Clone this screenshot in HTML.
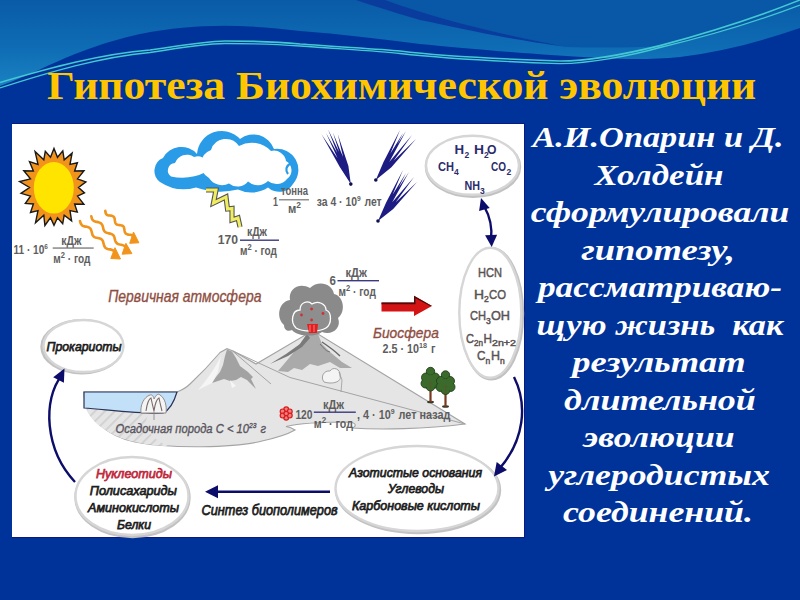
<!DOCTYPE html>
<html><head><meta charset="utf-8">
<style>
html,body{margin:0;padding:0;width:800px;height:600px;overflow:hidden;background:#003399;}
#bg{position:absolute;left:0;top:0;width:800px;height:600px;}
#title{position:absolute;left:0;top:61px;width:800px;white-space:nowrap;
 font-family:"Liberation Serif",serif;font-weight:bold;font-size:41px;color:#FFC600;}
#title span{position:absolute;left:47px;top:0;transform-origin:0 0;transform:scaleX(1.066);}
#panel{position:absolute;left:12px;top:123px;width:512px;height:413px;background:#fff;border:1px solid #0a1a80;border-left:none;}
#diag{position:absolute;left:0;top:0;width:800px;height:600px;}
#txt{position:absolute;left:523px;top:118px;width:276px;text-align:center;white-space:pre;
 font-family:"Liberation Serif",serif;font-weight:bold;font-style:italic;font-size:30px;line-height:37.5px;color:#fff;}
</style></head>
<body>
<svg id="bg" width="800" height="600" viewBox="0 0 800 600">
 <defs>
  <linearGradient id="glight" x1="0" y1="0" x2="0" y2="1" gradientUnits="objectBoundingBox">
   <stop offset="0" stop-color="#0a5ba7"/>
   <stop offset="0.55" stop-color="#0e6cb4"/>
   <stop offset="1" stop-color="#1a82c2"/>
  </linearGradient>
 </defs>
 <rect x="0" y="0" width="800" height="600" fill="#003399"/>
 <path d="M0,0 L800,0 L800,28 C760,42 720,52 680,57 C650,60 620,59 600,58 C540,55 460,48 420,44 C380,39 340,34 300,31 C260,26 220,24 180,28 C140,32 112,40 75,54 C50,64 30,75 0,86 Z" fill="url(#glight)"/>
 <path d="M385,0 L800,0 L800,0 C760,20 720,34 670,45 C640,48 600,48 567,47 C500,34 440,20 385,0 Z" fill="#0858a7"/>
 <path d="M356,0 L385,0 C440,20 500,34 567,47 C500,38 460,28 420,20 C400,14 380,8 356,0 Z" fill="#0a3c9e"/>
 <path d="M0,82.5 C50,68 100,54 150,50 C190,44 210,41 225,41 C260,41 280,42 300,44 C340,47 380,49 400,51 C440,56 500,59 560,61 C590,61 630,53 660,45.6 C700,35 750,20 800,0" fill="none" stroke="#44c8d2" stroke-width="1.6"/>
 <path d="M0,88 C50,72 100,57 150,52.5 C190,46 210,43.5 225,43.5 C260,43.5 280,44.5 300,46 C340,49 380,51 400,53.5 C440,58 500,61.5 560,63.7 C590,63 630,56 660,47.5 C700,38 750,24 800,5" fill="none" stroke="#44c8d2" stroke-width="1.3"/>
</svg>
<div id="title"><span>Гипотеза Биохимической эволюции</span></div>
<div id="panel"></div>
<svg id="diag" width="800" height="600" viewBox="0 0 800 600">
<polygon points="54.0,148.4 57.5,157.3 62.8,150.9 64.2,159.8 72.1,153.1 70.0,164.4 77.4,162.8 74.6,171.0 84.0,170.8 77.5,178.9 85.9,181.9 78.5,187.5 84.5,192.9 77.5,196.1 83.9,204.2 74.6,204.0 77.3,212.1 70.0,210.6 71.6,220.9 64.2,215.2 62.7,223.7 57.5,217.7 54.0,225.3 50.5,217.7 44.9,225.5 43.8,215.2 35.5,222.7 38.0,210.6 30.5,212.4 33.4,204.0 25.3,203.5 30.5,196.1 21.0,193.3 29.5,187.5 19.6,181.5 30.5,178.9 23.8,170.7 33.4,171.0 29.5,161.6 38.0,164.4 35.1,151.6 43.8,159.8 45.3,151.4 50.5,157.3" fill="#f2941c" stroke="#1a1a1a" stroke-width="1.4" stroke-linejoin="miter"/>
<ellipse cx="53.8" cy="187.8" rx="20" ry="25.8" fill="#ffe400"/>
<polyline points="80.0,221.0 80.3,222.1 80.6,223.2 81.1,224.1 81.7,224.9 82.4,225.6 83.3,226.0 84.4,226.4 85.5,226.6 86.7,226.8 87.8,227.1 88.8,227.4 89.7,228.0 90.4,228.6 90.9,229.5 91.3,230.5 91.6,231.6 91.9,232.7 92.2,233.8 92.5,234.9 93.0,235.8 93.7,236.5 94.5,237.1 95.5,237.5 96.6,237.8 97.7,238.0 98.8,238.2 99.9,238.5 100.9,238.9 101.7,239.5 102.4,240.2 102.9,241.1 103.2,242.2 103.5,243.3 103.8,244.4 104.1,245.5 104.5,246.5 105.0,247.4 105.7,248.0 106.6,248.6 107.6,248.9 108.7,249.2 109.9,249.4 111.0,249.6 112.1,250.0 113.0,250.4 113.7,251.1 114.3,251.9 114.8,252.8 115.1,253.9 115.4,255.0" fill="none" stroke="#f0941c" stroke-width="2.6" stroke-linecap="round"/>
<polygon points="115,247.7 110.8,258.5 120.5,259" fill="#f0941c" stroke="#f0941c" stroke-width="1" stroke-linejoin="round"/>
<polyline points="91.3,216.3 91.6,217.4 91.9,218.5 92.3,219.5 92.9,220.2 93.7,220.9 94.6,221.3 95.7,221.7 96.8,221.9 97.9,222.1 99.1,222.4 100.1,222.8 100.9,223.3 101.6,224.0 102.2,224.8 102.6,225.8 102.9,226.9 103.2,228.0 103.4,229.2 103.8,230.2 104.3,231.1 104.9,231.8 105.8,232.4 106.7,232.8 107.8,233.1 108.9,233.4 110.1,233.6 111.2,233.9 112.1,234.3 113.0,234.9 113.6,235.6 114.1,236.5 114.5,237.5 114.7,238.7 115.0,239.8 115.3,240.9 115.7,241.9 116.3,242.7 117.0,243.4 117.8,243.9 118.8,244.3 120.0,244.6 121.1,244.8 122.2,245.0 123.3,245.4 124.2,245.8 125.0,246.5 125.6,247.2 126.0,248.2 126.3,249.3 126.6,250.4" fill="none" stroke="#f0941c" stroke-width="2.6" stroke-linecap="round"/>
<polygon points="125.9,243.3 122.1,254.2 131.9,253.6" fill="#f0941c" stroke="#f0941c" stroke-width="1" stroke-linejoin="round"/>
<polyline points="105.3,210.8 105.4,211.8 105.6,212.8 105.9,213.6 106.4,214.3 107.0,214.8 107.8,215.2 108.7,215.4 109.7,215.5 110.8,215.6 111.7,215.8 112.6,216.1 113.4,216.5 113.9,217.1 114.3,217.8 114.6,218.7 114.8,219.7 114.9,220.7 115.1,221.7 115.3,222.6 115.6,223.4 116.2,224.0 116.8,224.5 117.7,224.8 118.6,225.0 119.7,225.1 120.7,225.2 121.6,225.4 122.5,225.7 123.1,226.2 123.7,226.8 124.0,227.6 124.2,228.5 124.4,229.5 124.5,230.5 124.7,231.5 125.0,232.4 125.4,233.1 125.9,233.7 126.7,234.1 127.6,234.4 128.5,234.6 129.6,234.7 130.6,234.8 131.5,235.0 132.3,235.4 132.9,235.9 133.4,236.6 133.7,237.4 133.9,238.4 134.0,239.4" fill="none" stroke="#f0941c" stroke-width="2.6" stroke-linecap="round"/>
<polygon points="133.5,232 129.7,243.3 138.9,242.8" fill="#f0941c" stroke="#f0941c" stroke-width="1" stroke-linejoin="round"/>
<g font-family="Liberation Sans" font-weight="bold" fill="#5e5e5e">
<text x="13.4" y="254.2" font-size="12.5" textLength="35.4" lengthAdjust="spacingAndGlyphs" >11 · 10<tspan dy="-5" font-size="8">6</tspan><tspan dy="5"> </tspan></text>
<text x="61.2" y="244.6" font-size="12" textLength="20.2" lengthAdjust="spacingAndGlyphs" >кДж</text>
<rect x="52.7" y="247.4" width="41" height="1.3" fill="#777"/>
<text x="53.3" y="262.6" font-size="12" textLength="37.1" lengthAdjust="spacingAndGlyphs" >м<tspan dy="-5" font-size="9">2</tspan><tspan dy="5"> · год</tspan></text>
</g>
<path d="M160,182 A13.95,13.95 0 0 1 163,158 A20.78,20.78 0 0 1 197,154 A24.78,24.78 0 0 1 240,139 A21.94,21.94 0 0 1 274,149 A21.16,21.16 0 0 1 293,184 A16.28,16.28 0 0 1 268,187.5 A30.25,30.25 0 0 1 238,189.5 A75.17,75.17 0 0 1 196,187.5 A43.45,43.45 0 0 1 160,182 Z" fill="#2a9be6"/>
<path d="M171,176.5 A7.46,7.46 0 0 1 175,163 A12.43,12.43 0 0 1 194,157 A10.09,10.09 0 0 1 206,172 A53.39,53.39 0 0 1 171,176.5 Z" fill="#fff"/>
<path d="M209,178 A15.44,15.44 0 0 1 211,150 A15.61,15.61 0 0 1 239,146 A26.59,26.59 0 0 1 271,151 A12.16,12.16 0 0 1 286,161 A10.62,10.62 0 0 1 287,179 A13.41,13.41 0 0 1 268,181 A14.51,14.51 0 0 1 248,181.5 A13.41,13.41 0 0 1 229,183.5 A15.45,15.45 0 0 1 209,178 Z" fill="#fff"/>
<path d="M291,163 C286,166 285,170 288,174" fill="none" stroke="#2a9be6" stroke-width="2.2"/>
<polyline points="206,190 216,190 213.5,203 226,197 227.5,209 232,208.5 232,220 238,218 240,227" fill="none" stroke="#555" stroke-width="5.2" stroke-linejoin="miter" stroke-miterlimit="3"/>
<polyline points="206,190 216,190 213.5,203 226,197 227.5,209 232,208.5 232,220 238,218 240,227" fill="none" stroke="#f0ee60" stroke-width="3" stroke-linejoin="miter" stroke-miterlimit="3"/>
<g font-family="Liberation Sans" font-weight="bold" fill="#5e5e5e">
<text x="273" y="205.5" font-size="12.5" textLength="5.0" lengthAdjust="spacingAndGlyphs" >1</text>
<text x="281" y="195" font-size="12" textLength="27.0" lengthAdjust="spacingAndGlyphs" >тонна</text>
<rect x="279" y="199.2" width="30" height="1.2" fill="#777"/>
<text x="288" y="213" font-size="12" textLength="13.0" lengthAdjust="spacingAndGlyphs" >м<tspan dy="-5" font-size="9">2</tspan></text>
<text x="217.7" y="244" font-size="12.5" textLength="20.3" lengthAdjust="spacingAndGlyphs" >170</text>
<text x="247" y="235.5" font-size="12" textLength="20.0" lengthAdjust="spacingAndGlyphs" >кДж</text>
<rect x="240" y="239.5" width="39" height="1.4" fill="#3a3a80"/>
<text x="240" y="254.5" font-size="12" textLength="37.0" lengthAdjust="spacingAndGlyphs" >м<tspan dy="-5" font-size="9">2</tspan><tspan dy="5"> · год</tspan></text>
<text x="316.7" y="205.8" font-size="12.5" textLength="65.0" lengthAdjust="spacingAndGlyphs" >за 4 · 10<tspan dy="-5" font-size="8">9</tspan><tspan dy="5">  лет</tspan></text>
</g>
<path d="M350.8,184.1 L342.4,165.5 L321.5,134.2 L339.8,167.1 Z M350.8,184.1 L344.9,164.1 L328.0,129.3 L342.0,165.3 Z M350.8,184.1 L346.6,165.4 L332.9,132.6 L343.7,166.4 Z M350.8,184.1 L348.4,166.1 L337.8,134.2 L345.4,166.9 Z M350.8,184.1 L344.1,165.3 L326.0,133.0 L341.3,166.6 Z" fill="#1c1c82"/><circle cx="350.8" cy="184.1" r="1.8" fill="#101050"/>
<path d="M375.8,180.0 L386.3,163.5 L400.0,130.0 L383.5,162.1 Z M375.8,180.0 L388.2,164.0 L406.0,131.0 L385.6,162.4 Z M375.8,180.0 L390.2,165.6 L412.0,135.0 L387.8,163.7 Z M375.8,180.0 L391.4,167.2 L416.0,139.0 L389.2,165.0 Z M375.8,180.0 L387.2,164.7 L403.0,133.0 L384.6,163.1 Z" fill="#1c1c82"/><circle cx="375.8" cy="180" r="1.8" fill="#101050"/>
<path d="M378.0,221.0 L388.7,204.1 L403.0,170.0 L386.0,202.8 Z M378.0,221.0 L390.7,205.0 L409.0,172.0 L388.1,203.4 Z M378.0,221.0 L392.3,207.0 L414.0,177.0 L389.9,205.0 Z M378.0,221.0 L393.2,208.9 L417.0,182.0 L391.0,206.7 Z M378.0,221.0 L389.7,205.3 L406.0,173.0 L387.0,203.8 Z" fill="#1c1c82"/><circle cx="378" cy="221" r="1.8" fill="#101050"/>
<path d="M84,392 C84,418 108,436 135,442 C170,449 235,448 262,441 C276,438 288,434 295,430 C292,428 289,427 286,426.5 C300,423 330,422 350,422 C356,423 357,426 352,428 C380,430 425,429 465,424 L318,334 L307,334 L256,364 L233,351 L227,348.7 L220,352.5 C212,362 205,370 190,384 C186,388 182,390 177,392 Z" fill="#e5e5e5" stroke="#a4a4a4" stroke-width="1.1"/>
<defs><pattern id="hatch" width="7" height="7" patternUnits="userSpaceOnUse" patternTransform="rotate(45)"><rect width="7" height="7" fill="#e5e5e5"/><rect width="1.8" height="7" fill="#d0d0d0"/></pattern></defs>
<path d="M85,404 C87,420 108,436 135,442 C150,445 160,446 168,446 C150,438 140,425 150,413 L85,408 Z" fill="url(#hatch)"/>
<path d="M233,351 L290,377.5 L465,424 M232.5,351 L271,384" stroke="#a4a4a4" stroke-width="1" fill="none"/>
<path d="M227,349.5 L232,351.5 L236,358 L240,366 L248,372 L253,377 L251,379 L256,389 L247,380 L241,377 L236,380 L230,381 L224,379 L218,381 L212,383 L216,377 L220,372 L223,365 L225,356 Z" fill="#a2a2a2"/>
<path d="M221,356 C216,366 210,376 198,390 L212,383 L218,372 Z" fill="#f6f6f6" opacity="0.9"/>
<path d="M230,380 L236,386 L232,388 Z" fill="#f6f6f6"/>
<path d="M307,334 L318,334 L322,344 L330,352 L342,362 L352,368 L340,368 L330,362 L318,366 L310,364 L302,370 L294,368 L288,372 L278,371 L284,364 L294,352 Z" fill="#aaaaaa"/>
<path d="M307,334 L300,344 L286,354 L270,364 L288,356 L302,347 L310,338 Z" fill="#7a7a7a"/>
<path d="M322,342 C328,346 334,350 340,356" stroke="#666" stroke-width="1.4" fill="none"/>
<path d="M320,344 C324,348 325,351 330,352" stroke="#777" stroke-width="1" fill="none"/>
<path d="M324,382 C320,377 324,370 330,371 C333,366 341,369 340,376 C342,381 334,385 324,382 Z" fill="#f4f4f4" stroke="#999" stroke-width="0.9"/>
<path d="M339,372 L342,380 L341,392" stroke="#999" stroke-width="0.8" fill="none"/>
<path d="M84,392 L177,392 C174,402 170,410 163,413 C140,414 110,410 84,408 Z" fill="#c2e1f8" stroke="#2a3358" stroke-width="1.2"/>
<path d="M141,413 C140,405 144,397 150,395 C152,394 154,397 154,399 C156,395 158,393 160,395 C165,398 167,406 166,413 Z" fill="#f4f4f4" stroke="#8a8080" stroke-width="0.9"/>
<path d="M146,411 C147,404 149,399 151,398 C152,403 153,407 154,411 M154,411 C155,404 157,399 159,398 C160,403 161,407 162,411" stroke="#7a6a6a" stroke-width="1.1" fill="none"/>
<path d="M154,411 L154,420" stroke="#8a8080" stroke-width="0.8"/>
<path d="M284,325 C276,318 278,302 290,300 C288,288 300,282 310,288 C318,280 332,283 334,294 C344,296 346,312 338,318 C342,328 332,336 322,332 C314,338 296,336 292,330 C288,332 284,330 284,325 Z" fill="#8a8a8a"/>
<path d="M296,328 C290,322 292,310 300,310 C300,302 308,300 312,304 C318,300 326,304 326,310 C332,312 332,324 326,328 C320,332 302,332 296,328 Z" fill="#8e8e8e" stroke="#fff" stroke-width="1.3"/>
<g fill="#d03030"><circle cx="301.5" cy="315" r="1.4"/><circle cx="311.6" cy="309" r="1.4"/><circle cx="323" cy="313.5" r="1.4"/><circle cx="311.6" cy="320" r="1.4"/></g>
<path d="M307,324 L318,324 L317,333 L309,333 Z" fill="#e02020"/>
<path d="M310,325 L310,332 M314,325 L314,332" stroke="#ff9090" stroke-width="0.8"/>
<ellipse cx="430.5" cy="402" rx="3.5" ry="1.3" fill="#3a3a2a"/>
<rect x="429.4" y="385" width="2.2" height="17" fill="#7a3a20"/>
<g fill="#3b6b2c" stroke="#22401a" stroke-width="0.9"><circle cx="430.5" cy="371.5" r="4.2"/><circle cx="426.0" cy="377.5" r="4.5"/><circle cx="435.0" cy="377.5" r="4.5"/><circle cx="425.5" cy="383.5" r="4.5"/><circle cx="435.5" cy="383.5" r="4.5"/><circle cx="430.5" cy="379.5" r="5"/><circle cx="430.5" cy="386.5" r="4.5"/></g>
<g fill="#3b6b2c"><circle cx="430.5" cy="371.5" r="3.3000000000000003"/><circle cx="426.0" cy="377.5" r="3.6"/><circle cx="435.0" cy="377.5" r="3.6"/><circle cx="425.5" cy="383.5" r="3.6"/><circle cx="435.5" cy="383.5" r="3.6"/><circle cx="430.5" cy="379.5" r="4.1"/><circle cx="430.5" cy="386.5" r="3.6"/></g>
<rect x="429.8" y="381" width="1.4" height="8" fill="#6a4a28" opacity="0.6"/>
<ellipse cx="445.5" cy="406.5" rx="3.5" ry="1.3" fill="#3a3a2a"/>
<rect x="444.4" y="389" width="2.2" height="17.5" fill="#7a3a20"/>
<g fill="#3b6b2c" stroke="#22401a" stroke-width="0.9"><circle cx="445.5" cy="375" r="4.2"/><circle cx="441.0" cy="381" r="4.5"/><circle cx="450.0" cy="381" r="4.5"/><circle cx="440.5" cy="387" r="4.5"/><circle cx="450.5" cy="387" r="4.5"/><circle cx="445.5" cy="383" r="5"/><circle cx="445.5" cy="390" r="4.5"/></g>
<g fill="#3b6b2c"><circle cx="445.5" cy="375" r="3.3000000000000003"/><circle cx="441.0" cy="381" r="3.6"/><circle cx="450.0" cy="381" r="3.6"/><circle cx="440.5" cy="387" r="3.6"/><circle cx="450.5" cy="387" r="3.6"/><circle cx="445.5" cy="383" r="4.1"/><circle cx="445.5" cy="390" r="3.6"/></g>
<rect x="444.8" y="385" width="1.4" height="8" fill="#6a4a28" opacity="0.6"/>
<path d="M381.5,302.5 L414,302.5 L414,295.8 L432,306 L414,316 L414,311.5 L381.5,311.5 Z" fill="#d41414"/>
<path d="M381.5,302.5 L414,302.5 L414,295.8 L432,306 L430,306 L415.5,298.3 L415.5,304.3 L381.5,304.3 Z" fill="#4a0c0c"/>
<g fill="#f08080" stroke="#d81c1c" stroke-width="1.2"><circle cx="286.2" cy="409.3" r="2.4"/><circle cx="286.2" cy="417.7" r="2.4"/><circle cx="282.6" cy="411.4" r="2.4"/><circle cx="289.8" cy="411.4" r="2.4"/><circle cx="282.6" cy="415.6" r="2.4"/><circle cx="289.8" cy="415.6" r="2.4"/><circle cx="286.2" cy="413.5" r="2.2"/></g>
<ellipse cx="473.0" cy="166.8" rx="46.5" ry="29.5" fill="none" stroke="#c2c2c2" stroke-width="3.4"/><ellipse cx="472.5" cy="165.3" rx="46.5" ry="29.5" fill="#fff" stroke="#d6d6d6" stroke-width="2.4"/>
<ellipse cx="491.5" cy="313.7" rx="31" ry="65" fill="none" stroke="#c2c2c2" stroke-width="3.4"/><ellipse cx="490.3" cy="312.7" rx="31" ry="65" fill="#fff" stroke="#d6d6d6" stroke-width="2.4"/>
<ellipse cx="82.0" cy="346.8" rx="40" ry="26" fill="none" stroke="#c2c2c2" stroke-width="3.4"/><ellipse cx="83.5" cy="346" rx="40" ry="26" fill="#fff" stroke="#d6d6d6" stroke-width="2.4"/>
<ellipse cx="418" cy="490.0" rx="81.5" ry="42.5" fill="none" stroke="#c2c2c2" stroke-width="3.4"/><ellipse cx="417" cy="488.5" rx="81.5" ry="42.5" fill="#fff" stroke="#d6d6d6" stroke-width="2.4"/>
<ellipse cx="132.5" cy="497.5" rx="56.5" ry="39" fill="none" stroke="#c2c2c2" stroke-width="3.4"/><ellipse cx="132" cy="496" rx="56.5" ry="39" fill="#fff" stroke="#d6d6d6" stroke-width="2.4"/>
<g font-family="Liberation Sans" font-weight="bold" fill="#2c2c6c">
<text x="454.4" y="154.4" font-size="12.5" textLength="9.6" lengthAdjust="spacingAndGlyphs" >H</text>
<text x="464.5" y="158" font-size="8.5">2</text>
<text x="474" y="154.4" font-size="12.5" textLength="10.0" lengthAdjust="spacingAndGlyphs" >H</text>
<text x="484" y="158" font-size="8.5">2</text>
<text x="487" y="154.4" font-size="12.5" textLength="9.5" lengthAdjust="spacingAndGlyphs" >O</text>
<text x="438" y="170.9" font-size="12.5" textLength="16.0" lengthAdjust="spacingAndGlyphs" >CH</text>
<text x="454" y="175" font-size="8.5">4</text>
<text x="491" y="170.9" font-size="12.5" textLength="15.0" lengthAdjust="spacingAndGlyphs" >CO</text>
<text x="506.5" y="175" font-size="8.5">2</text>
<text x="464.5" y="190" font-size="12.5" textLength="15.5" lengthAdjust="spacingAndGlyphs" >NH</text>
<text x="480" y="194" font-size="8.5">3</text>
</g>
<g font-family="Liberation Sans" fill="#5a5252" stroke="#5a5252" stroke-width="0.45">
<text x="478" y="277.3" font-size="13" textLength="24.0" lengthAdjust="spacingAndGlyphs" >HCN</text>
<text x="474" y="298.7" font-size="12.5" textLength="10.0" lengthAdjust="spacingAndGlyphs" >H</text>
<text x="484" y="302" font-size="8.5">2</text>
<text x="489" y="298.7" font-size="12.5" textLength="17.0" lengthAdjust="spacingAndGlyphs" >CO</text>
<text x="470" y="320" font-size="12.5" textLength="16.0" lengthAdjust="spacingAndGlyphs" >CH</text>
<text x="486" y="323.5" font-size="8.5">3</text>
<text x="491" y="320" font-size="12.5" textLength="19.0" lengthAdjust="spacingAndGlyphs" >OH</text>
<text x="466" y="342.7" font-size="12.5" textLength="8.0" lengthAdjust="spacingAndGlyphs" >C</text>
<text x="474" y="346" font-size="8.5" textLength="9" lengthAdjust="spacingAndGlyphs">2n</text>
<text x="483.5" y="342.7" font-size="12.5" textLength="8.5" lengthAdjust="spacingAndGlyphs" >H</text>
<text x="492" y="346" font-size="8.5" textLength="24" lengthAdjust="spacingAndGlyphs">2n+2</text>
<text x="477" y="360" font-size="12.5" textLength="8.5" lengthAdjust="spacingAndGlyphs" >C</text>
<text x="485.5" y="363.5" font-size="8.5">n</text>
<text x="491" y="360" font-size="12.5" textLength="9.0" lengthAdjust="spacingAndGlyphs" >H</text>
<text x="500" y="363.5" font-size="8.5">n</text>
</g>
<g font-family="Liberation Sans" font-style="italic" fill="#1e1e1e" stroke="#1e1e1e" stroke-width="0.75">
<text x="46.5" y="350.5" font-size="13.7" textLength="75.0" lengthAdjust="spacingAndGlyphs" >Прокариоты</text>
<text x="349" y="476.6" font-size="13.4" textLength="133.0" lengthAdjust="spacingAndGlyphs" >Азотистые основания</text>
<text x="388" y="493" font-size="13.4" textLength="56.0" lengthAdjust="spacingAndGlyphs" >Углеводы</text>
<text x="352" y="509.5" font-size="13.4" textLength="128.0" lengthAdjust="spacingAndGlyphs" >Карбоновые кислоты</text>
<text x="96" y="478" font-size="13.5" fill="#c0283c" textLength="76.0" lengthAdjust="spacingAndGlyphs" stroke="#c0283c">Нуклеотиды</text>
<text x="89.75" y="494.6" font-size="13.5" textLength="87.2" lengthAdjust="spacingAndGlyphs" >Полисахариды</text>
<text x="88" y="512" font-size="13.5" textLength="91.0" lengthAdjust="spacingAndGlyphs" >Аминокислоты</text>
<text x="117" y="528.8" font-size="13.5" textLength="34.0" lengthAdjust="spacingAndGlyphs" >Белки</text>
<text x="201.6" y="515.3" font-size="14.4" textLength="136.0" lengthAdjust="spacingAndGlyphs" >Синтез биополимеров</text>
</g>
<g fill="none" stroke="#0c0c6a" stroke-width="2.4">
<path d="M484,206 C492,220 492,232 491,240"/>
<path d="M514,377 C528,405 524,440 500,468"/>
<path d="M75,482 C45,450 42,400 62,375"/>
<line x1="330" y1="491.7" x2="215" y2="491.7"/>
</g>
<g fill="#0c0c6a">
<polygon points="481.0,198.0 489.7,208.0 479.1,211.1" fill="#0c0c6a"/>
<polygon points="491.7,247.0 485.1,235.3 497.1,234.7" fill="#0c0c6a"/>
<polygon points="494.0,476.4 496.7,462.1 507.0,470.0" fill="#0c0c6a"/>
<polygon points="64.5,368.5 63.9,382.8 53.2,377.3" fill="#0c0c6a"/>
<polygon points="205.0,491.7 218.0,485.2 218.0,498.2" fill="#0c0c6a"/>
</g>
<g font-family="Liberation Sans" font-style="italic" fill="#8e4e42" stroke="#8e4e42" stroke-width="0.35">
<text x="108.25" y="301.75" font-size="16.5" textLength="153.2" lengthAdjust="spacingAndGlyphs" >Первичная атмосфера</text>
<text x="373" y="337.5" font-size="15.2" textLength="65.8" lengthAdjust="spacingAndGlyphs" >Биосфера</text>
</g>
<g font-family="Liberation Sans" font-style="italic" fill="#5a5660" stroke="#5a5660" stroke-width="0.4">
<text x="115.5" y="432.5" font-size="13.5" textLength="150.5" lengthAdjust="spacingAndGlyphs" >Осадочная порода С &lt; 10<tspan dy="-5" font-size="8">23</tspan><tspan dy="5">  г</tspan></text>
</g>
<g font-family="Liberation Sans" font-weight="bold" fill="#5e5e5e">
<text x="382.5" y="353" font-size="12" textLength="52.9" lengthAdjust="spacingAndGlyphs" >2.5 · 10<tspan dy="-5" font-size="8">18</tspan><tspan dy="5">  г</tspan></text>
<text x="329.6" y="284.5" font-size="12.5" textLength="6.4" lengthAdjust="spacingAndGlyphs" >6</text>
<text x="345.4" y="276.6" font-size="12" textLength="21.4" lengthAdjust="spacingAndGlyphs" >кДж</text>
<rect x="337.5" y="280" width="41.5" height="1.4" fill="#3a3a80"/>
<text x="338.6" y="295.75" font-size="12" textLength="37.2" lengthAdjust="spacingAndGlyphs" >м<tspan dy="-5" font-size="9">2</tspan><tspan dy="5"> · год</tspan></text>
<text x="295.4" y="418.7" font-size="12.5" textLength="17.1" lengthAdjust="spacingAndGlyphs" >120</text>
<text x="323" y="408.8" font-size="12" textLength="21.0" lengthAdjust="spacingAndGlyphs" >кДж</text>
<rect x="313.8" y="411.5" width="42" height="1.4" fill="#3a3a80"/>
<text x="313.8" y="428" font-size="12" textLength="39.2" lengthAdjust="spacingAndGlyphs" >м<tspan dy="-5" font-size="9">2</tspan><tspan dy="5"> · год</tspan></text>
<text x="357" y="418.7" font-size="12.5" textLength="93.3" lengthAdjust="spacingAndGlyphs" >,  4 · 10<tspan dy="-5" font-size="8">9</tspan><tspan dy="5">  лет назад</tspan></text>
</g>
</svg>
<div id="txt"><div style="position:relative;left:-3.2px;transform:scaleX(1.143)">А.И.Опарин и Д.</div><div style="position:relative;left:-2.2px;transform:scaleX(1.168)">Холдейн</div><div style="position:relative;left:-1.2px;transform:scaleX(1.186)">сформулировали</div><div style="position:relative;left:-2.7px;transform:scaleX(1.218)">гипотезу,</div><div style="position:relative;left:-1.2px;transform:scaleX(1.178)">рассматриваю-</div><div style="position:relative;left:-0.7px;transform:scaleX(1.145)">щую жизнь  как</div><div style="position:relative;left:-2.0px;transform:scaleX(1.215)">результат</div><div style="position:relative;left:-0.7px;transform:scaleX(1.199)">длительной</div><div style="position:relative;left:-1.9px;transform:scaleX(1.191)">эволюции</div><div style="position:relative;left:-2.2px;transform:scaleX(1.190)">углеродистых</div><div style="position:relative;left:-2.7px;transform:scaleX(1.193)">соединений.</div></div>
</body></html>
